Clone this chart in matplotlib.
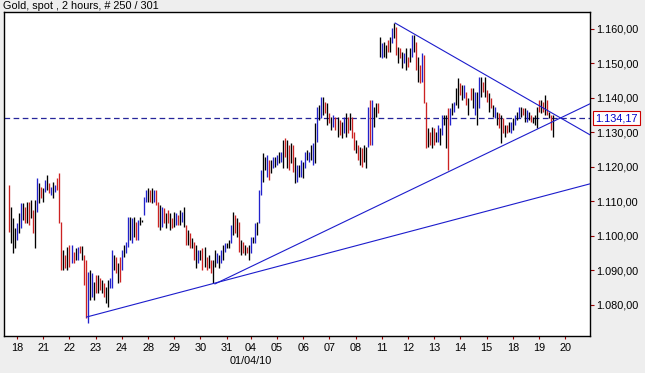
import matplotlib.pyplot as plt
import numpy as np
from matplotlib.ticker import FuncFormatter

plt.rcParams['font.family'] = ['Liberation Sans', 'DejaVu Sans']

title = "Gold, spot , 2 hours, # 250 / 301"

# 2-hour bars (high / low in USD)
highs = [
    1114.8, 1108.4, 1105.2, 1102.3, 1103.8, 1106.7, 1109.6, 1109.6, 1108.4, 1109.9,
    1109.9, 1110.4, 1107.5, 1110.4, 1116.8, 1115.4, 1114.2, 1113.9, 1116.2, 1117.7,
    1115.4, 1114.2, 1115.7, 1114.8, 1116.8, 1118.3, 1104.1, 1095.9, 1094.5, 1096.8,
    1097.4, 1097.4, 1095.4, 1096.5, 1096.8, 1097.1, 1097.1, 1094.5, 1093.0, 1089.6,
    1090.1, 1089.3, 1086.7, 1088.7, 1088.7, 1087.8, 1087.2, 1086.4, 1085.2, 1087.2,
    1087.8, 1095.9, 1094.5, 1093.9, 1092.2, 1093.9, 1095.9, 1097.4, 1098.3, 1105.5,
    1105.5, 1105.2, 1105.5, 1104.1, 1104.6, 1105.5, 1104.6, 1111.3, 1113.3, 1113.9,
    1113.3, 1113.9, 1113.3, 1113.3, 1109.9, 1109.0, 1108.4, 1108.1, 1106.7, 1107.5,
    1106.7, 1105.2, 1107.0, 1106.7, 1106.1, 1107.5, 1107.0, 1108.4, 1103.2, 1101.7,
    1100.9, 1099.4, 1098.3, 1097.4, 1095.9, 1095.9, 1096.5, 1096.8, 1093.9, 1094.5,
    1093.0, 1093.0, 1095.9, 1095.1, 1094.5, 1095.9, 1097.4, 1098.0, 1098.0, 1098.8,
    1103.2, 1107.0, 1106.1, 1105.2, 1104.1, 1098.8, 1098.3, 1097.4, 1096.8, 1097.4,
    1099.7, 1099.7, 1103.8, 1104.1, 1113.3, 1119.1, 1124.1, 1122.9, 1123.5, 1122.0,
    1122.0, 1122.9, 1122.9, 1123.5, 1124.3, 1124.3, 1127.8, 1128.4, 1127.8, 1126.4,
    1127.0, 1126.4, 1122.9, 1120.6, 1120.6, 1122.0, 1121.4, 1124.3, 1124.9, 1124.3,
    1126.4, 1127.0, 1132.8, 1137.4, 1138.0, 1140.3, 1140.3, 1138.8, 1138.6, 1135.7,
    1134.5, 1135.1, 1134.5, 1134.5, 1133.6, 1133.0, 1134.5, 1135.7, 1134.5, 1135.7,
    1134.5, 1130.1, 1127.8, 1126.4, 1125.8, 1125.5, 1126.4, 1125.8, 1137.4, 1139.4,
    1139.4, 1137.4, 1138.6, 1138.6, 1157.7, 1155.9, 1156.2, 1155.4, 1156.8, 1157.7,
    1160.3, 1161.7, 1160.6, 1154.8, 1154.5, 1153.3, 1153.0, 1154.5, 1151.9, 1154.5,
    1158.3, 1158.3, 1156.2, 1151.9, 1149.6, 1153.0, 1152.5, 1138.8, 1131.3, 1130.1,
    1131.6, 1131.3, 1130.1, 1132.2, 1131.3, 1135.1, 1135.1, 1135.1, 1137.1, 1137.1,
    1138.6, 1138.8, 1142.9, 1145.8, 1144.3, 1143.8, 1143.8, 1141.7, 1140.0, 1142.9,
    1142.9, 1141.7, 1141.7, 1146.1, 1146.1, 1144.6, 1146.1, 1142.3, 1141.4, 1140.0,
    1138.0, 1137.4, 1135.9, 1135.7, 1135.1, 1134.2, 1132.2, 1132.2, 1133.0, 1133.0,
    1134.2, 1135.1, 1135.9, 1137.4, 1137.4, 1137.1, 1137.1, 1136.5, 1135.9, 1135.1,
    1134.5, 1135.1, 1137.4, 1139.4, 1139.4, 1138.8, 1140.9, 1139.4, 1135.9, 1135.1,
    1135.1,
]
lows = [
    1101.2, 1098.0, 1095.1, 1096.5, 1098.8, 1100.9, 1102.3, 1104.6, 1103.8, 1103.8,
    1103.2, 1105.2, 1100.9, 1096.5, 1107.0, 1109.6, 1111.0, 1109.9, 1112.8, 1113.3,
    1112.5, 1111.9, 1111.0, 1112.8, 1113.3, 1103.8, 1090.1, 1090.1, 1090.7, 1090.1,
    1091.0, 1092.2, 1092.2, 1093.0, 1093.0, 1095.1, 1093.0, 1085.8, 1076.2, 1074.8,
    1081.4, 1082.3, 1081.4, 1083.5, 1083.5, 1084.3, 1083.5, 1082.3, 1080.6, 1079.4,
    1084.9, 1084.9, 1090.1, 1089.3, 1086.4, 1086.7, 1090.1, 1093.9, 1095.1, 1096.8,
    1098.8, 1098.0, 1099.7, 1098.8, 1098.8, 1103.2, 1104.1, 1106.1, 1109.9, 1109.9,
    1109.9, 1109.6, 1109.9, 1109.0, 1102.6, 1101.7, 1102.6, 1103.8, 1102.3, 1103.8,
    1101.7, 1102.3, 1102.6, 1103.2, 1103.2, 1103.2, 1104.1, 1102.6, 1097.4, 1097.4,
    1096.5, 1096.5, 1093.0, 1090.7, 1092.2, 1093.0, 1090.1, 1091.0, 1090.1, 1090.7,
    1089.3, 1086.4, 1091.0, 1092.2, 1090.7, 1092.2, 1093.0, 1095.4, 1096.5, 1096.5,
    1098.0, 1100.3, 1100.9, 1099.7, 1095.4, 1094.5, 1095.1, 1094.5, 1095.1, 1093.0,
    1095.1, 1098.0, 1098.0, 1100.3, 1103.8, 1111.9, 1115.7, 1119.1, 1117.1, 1116.2,
    1118.3, 1119.7, 1120.0, 1120.6, 1121.2, 1121.4, 1119.7, 1122.9, 1119.7, 1119.1,
    1121.2, 1118.6, 1115.4, 1115.7, 1117.1, 1117.1, 1116.8, 1119.7, 1122.0, 1121.4,
    1122.0, 1120.6, 1121.2, 1127.2, 1133.6, 1134.2, 1135.1, 1135.7, 1132.2, 1132.8,
    1130.7, 1131.6, 1130.7, 1128.7, 1129.3, 1128.4, 1129.9, 1128.7, 1129.9, 1130.7,
    1128.4, 1124.9, 1124.1, 1122.0, 1120.6, 1120.0, 1121.4, 1119.7, 1125.8, 1126.4,
    1126.4, 1131.6, 1134.5, 1135.7, 1151.9, 1151.6, 1151.9, 1151.6, 1153.3, 1153.3,
    1155.9, 1157.4, 1152.5, 1150.1, 1151.6, 1148.7, 1150.1, 1148.1, 1149.0, 1150.4,
    1151.9, 1153.3, 1148.1, 1144.6, 1144.3, 1144.6, 1138.6, 1125.5, 1125.8, 1126.4,
    1125.5, 1126.4, 1127.2, 1127.2, 1126.4, 1129.3, 1132.2, 1125.5, 1119.1, 1132.2,
    1135.1, 1135.9, 1138.0, 1137.1, 1140.9, 1139.4, 1140.0, 1138.0, 1135.1, 1139.4,
    1137.1, 1135.1, 1132.2, 1137.1, 1140.3, 1141.7, 1140.3, 1138.8, 1135.9, 1137.1,
    1134.5, 1134.2, 1132.2, 1131.3, 1127.0, 1129.9, 1128.7, 1129.9, 1130.1, 1129.9,
    1130.7, 1132.2, 1133.6, 1134.2, 1134.5, 1135.1, 1133.0, 1133.0, 1133.6, 1133.0,
    1132.8, 1132.2, 1131.3, 1135.9, 1135.7, 1135.9, 1135.1, 1135.1, 1134.2, 1130.7,
    1128.7,
]
# bar colour: k = black, r = red, b = blue
bar_codes = ("rkkkbkbkrk" "rkrkbkrkbk" "rbkbrrrkrk" "rbrkbrkrrb" "kbkrkrkrkk"
             "bbkrkrbkbb" "kbkrbkkbbk" "rkbrrkbrkr" "krkbrkbkrk" "rkrkbkrkrk"
             "rkkbkbkbkk" "bkrkrkrkrk" "bkbkbbkkbr" "kbkbkbkrkr" "krkbkbkbkb"
             "kbkbkbkrkr" "kbrkrkbkrk" "rrkrkrkkbr" "bkkrkbkkrk" "bkrkrkbkrk"
             "bkrkrbrrkr" "krkbkbkkrb" "kbkkrkbrkr" "kbkbkrkrkr" "kbkrkrkrkb"
             "kbkbkrkbkr" "kkkrkrkrkr" "k")

day_labels = ["18", "21", "22", "23", "24", "28", "29", "30", "31", "04", "05",
              "06", "07", "08", "11", "12", "13", "14", "15", "18", "19", "20"]
day_bars = [4, 17, 30, 43, 56, 69, 82, 95, 108, 120, 133,
            146, 159, 172, 185, 198, 211, 224, 237, 250, 263, 276]
month_label = "01/04/10"
month_bar = 120

last_price = 1134.17

# trend lines: (start bar, start price, end bar, end price)
trend_lines = [
    (38.5, 1076.5, 288.3, 1115.1),
    (102.2, 1086.1, 288.3, 1138.3),
    (191.6, 1161.7, 288.3, 1129.3),
]

palette = {'k': 'black', 'r': '#cc2222', 'b': '#2222cc'}


def de_fmt(v, pos=None):
    s = f"{v:,.2f}"
    return s.replace(",", "X").replace(".", ",").replace("X", ".")


fig = plt.figure(figsize=(6.45, 3.73), dpi=100, facecolor='#eeeeee')
ax = fig.add_axes([4 / 645, 37 / 373, 586 / 645, 324 / 373])
ax.set_facecolor('white')

x = np.arange(len(highs))
ax.axhline(last_price, color='#25259a', lw=0.9, ls=(0, (4.5, 2.8)), zorder=1)
ax.vlines(x, lows, highs, colors=[palette[c] for c in bar_codes], lw=0.95, zorder=2)

for x0, y0, x1, y1 in trend_lines:
    ax.plot([x0, x1], [y0, y1], color='#1c1ccc', lw=0.8, zorder=3)

ax.set_xlim(-2.5, 288.3)
ax.set_ylim(1071.0, 1164.9)

ax.yaxis.tick_right()
ax.set_yticks(np.arange(1080, 1161, 10))
ax.yaxis.set_major_formatter(FuncFormatter(de_fmt))
ax.tick_params(axis='y', length=3, width=0.8, color='#990000', labelsize=7.8, pad=1.5)

ax.set_xticks(day_bars)
ax.set_xticklabels(day_labels)
ax.tick_params(axis='x', length=2.5, width=0.8, color='#990000', labelsize=7.8, pad=2.5)

for sp in ax.spines.values():
    sp.set_color('black')
    sp.set_linewidth(1.0)

ax.annotate(month_label, xy=(month_bar, 0), xycoords=('data', 'axes fraction'),
            xytext=(0, -14.5), textcoords='offset points', ha='center', va='top',
            fontsize=7.8)

ax.annotate(de_fmt(last_price), xy=(1, last_price), xycoords=('axes fraction', 'data'),
            xytext=(4, 0), textcoords='offset points', ha='left', va='center',
            color='#0000cc', fontsize=7.8,
            bbox=dict(boxstyle='square,pad=0.2', fc='white', ec='#cc0000', lw=0.8))

fig.text(3 / 645, 1 - 1 / 373, title, ha='left', va='top', fontsize=7.8)

fig.savefig('out.png', dpi=100, facecolor=fig.get_facecolor())
